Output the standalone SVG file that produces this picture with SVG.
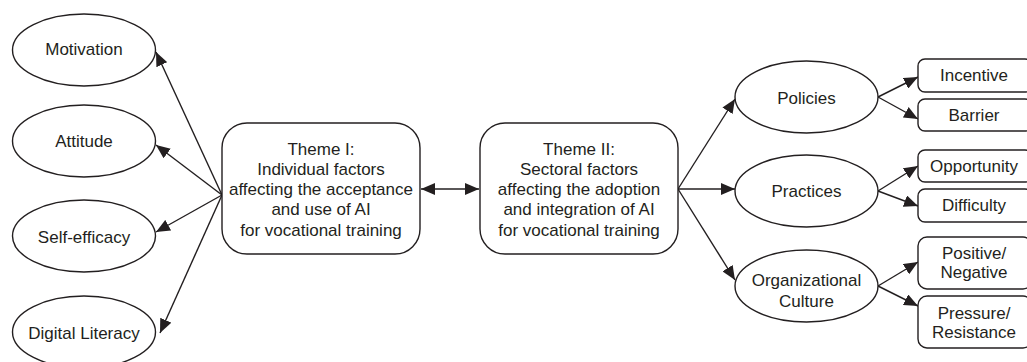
<svg xmlns="http://www.w3.org/2000/svg" width="1027" height="362" viewBox="0 0 1027 362">
  <style>
    .shape { fill: #ffffff; stroke: #231f20; stroke-width: 1.4; }
    .link { fill: none; stroke: #231f20; stroke-width: 1.4; }
    text { font-family: "Liberation Sans", Arial, sans-serif; font-size: 17px; fill: #231f20; text-anchor: middle; }
  </style>
  <defs>
    <marker id="head" viewBox="0 0 14 12" refX="14" refY="6" markerWidth="14" markerHeight="12" markerUnits="userSpaceOnUse" orient="auto-start-reverse">
      <path d="M0,0 L14,6 L0,12 Z" fill="#231f20"/>
    </marker>
  </defs>
  <rect width="1027" height="362" fill="#ffffff"/>

  <!-- connectors -->
  <g id="connectors">
    <line class="link" x1="222" y1="195" x2="156" y2="52" marker-end="url(#head)"/>
    <line class="link" x1="222" y1="195" x2="156" y2="145" marker-end="url(#head)"/>
    <line class="link" x1="222" y1="195" x2="156" y2="232" marker-end="url(#head)"/>
    <line class="link" x1="222" y1="195" x2="160" y2="333" marker-end="url(#head)"/>
    <line class="link" x1="421" y1="189" x2="479" y2="189" marker-start="url(#head)" marker-end="url(#head)"/>
    <line class="link" x1="678" y1="189" x2="735" y2="99" marker-end="url(#head)"/>
    <line class="link" x1="678" y1="189" x2="735" y2="189" marker-end="url(#head)"/>
    <line class="link" x1="678" y1="189" x2="735" y2="280" marker-end="url(#head)"/>
    <line class="link" x1="878" y1="97" x2="918" y2="77" marker-end="url(#head)"/>
    <line class="link" x1="878" y1="97" x2="918" y2="119" marker-end="url(#head)"/>
    <line class="link" x1="878" y1="191" x2="918" y2="166" marker-end="url(#head)"/>
    <line class="link" x1="878" y1="191" x2="918" y2="206" marker-end="url(#head)"/>
    <line class="link" x1="878" y1="286" x2="918" y2="262" marker-end="url(#head)"/>
    <line class="link" x1="878" y1="286" x2="918" y2="306" marker-end="url(#head)"/>
  </g>

  <!-- individual factors -->
  <g id="motivation">
    <ellipse class="shape" cx="84" cy="50" rx="71.5" ry="36"/>
    <text x="84" y="55">Motivation</text>
  </g>
  <g id="attitude">
    <ellipse class="shape" cx="84" cy="141" rx="71.5" ry="36"/>
    <text x="84" y="147">Attitude</text>
  </g>
  <g id="self-efficacy">
    <ellipse class="shape" cx="84" cy="236" rx="71.5" ry="36"/>
    <text x="84" y="243">Self-efficacy</text>
  </g>
  <g id="digital-literacy">
    <ellipse class="shape" cx="84" cy="332" rx="71.5" ry="36"/>
    <text x="84" y="339">Digital Literacy</text>
  </g>

  <!-- themes -->
  <g id="theme-1">
    <rect class="shape" x="222" y="123" width="198" height="131" rx="25" ry="25"/>
    <text x="321" y="155">Theme I:</text>
    <text x="321" y="175">Individual factors</text>
    <text x="321" y="195">affecting the acceptance</text>
    <text x="321" y="215">and use of AI</text>
    <text x="321" y="236">for vocational training</text>
  </g>
  <g id="theme-2">
    <rect class="shape" x="480" y="123" width="198" height="131" rx="25" ry="25"/>
    <text x="579" y="155">Theme II:</text>
    <text x="579" y="175">Sectoral factors</text>
    <text x="579" y="195">affecting the adoption</text>
    <text x="579" y="215">and integration of AI</text>
    <text x="579" y="236">for vocational training</text>
  </g>

  <!-- sectoral factors -->
  <g id="policies">
    <ellipse class="shape" cx="806.5" cy="97" rx="71.5" ry="36"/>
    <text x="806.5" y="104">Policies</text>
  </g>
  <g id="practices">
    <ellipse class="shape" cx="806.5" cy="191" rx="71.5" ry="36"/>
    <text x="806.5" y="197">Practices</text>
  </g>
  <g id="organizational-culture">
    <ellipse class="shape" cx="806.5" cy="286" rx="71.5" ry="36"/>
    <text x="806.5" y="286">Organizational</text>
    <text x="806.5" y="307">Culture</text>
  </g>

  <!-- sub-factors -->
  <g id="incentive">
    <rect class="shape" x="918" y="59" width="114" height="33" rx="7" ry="7"/>
    <text x="974" y="81">Incentive</text>
  </g>
  <g id="barrier">
    <rect class="shape" x="918" y="99" width="114" height="32" rx="7" ry="7"/>
    <text x="974" y="121">Barrier</text>
  </g>
  <g id="opportunity">
    <rect class="shape" x="918" y="150" width="114" height="32" rx="7" ry="7"/>
    <text x="974" y="172">Opportunity</text>
  </g>
  <g id="difficulty">
    <rect class="shape" x="918" y="189" width="114" height="33" rx="7" ry="7"/>
    <text x="974" y="211">Difficulty</text>
  </g>
  <g id="positive-negative">
    <rect class="shape" x="918" y="237" width="114" height="52" rx="9" ry="9"/>
    <text x="974" y="259">Positive/</text>
    <text x="974" y="278">Negative</text>
  </g>
  <g id="pressure-resistance">
    <rect class="shape" x="918" y="296" width="114" height="52" rx="9" ry="9"/>
    <text x="974" y="319">Pressure/</text>
    <text x="974" y="338">Resistance</text>
  </g>
</svg>
